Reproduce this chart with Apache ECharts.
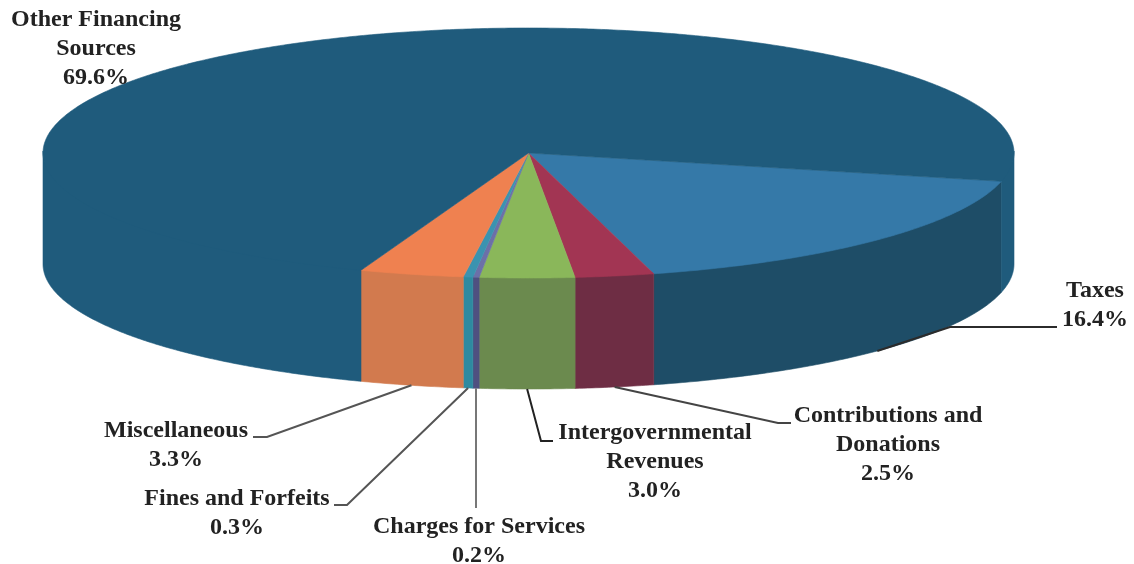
<!DOCTYPE html>
<html>
<head>
<meta charset="utf-8">
<title>Revenue sources</title>
<style>html,body{margin:0;padding:0;background:#fff}#chart{width:1134px;height:564px}</style>
<script src="https://cdn.jsdelivr.net/npm/echarts@6/dist/echarts.min.js"></script>
</head>
<body>
<div id="chart"></div>
<script>
// Revenue shares, clockwise from the right-hand side of the disc
const categories = [
  'Taxes',
  'Contributions and\nDonations',
  'Intergovernmental\nRevenues',
  'Charges for Services',
  'Fines and Forfeits',
  'Miscellaneous',
  'Other Financing\nSources'
];
const shares = [16.4, 2.5, 3.0, 0.2, 0.3, 3.3, 69.6];

// Slice colours: lit top face and shaded outer wall
const topColors  = ['#3579a8', '#a23553', '#8ab75a', '#6c70a8', '#3b93b0', '#ef8150', '#1f5b7c'];
const wallColors = ['#1e4d67', '#6e2d44', '#6b8a4e', '#4f5080', '#2d8aa0', '#d27a4e', '#1f5b7c'];

// Disc geometry in pixels
const disc = { cx: 528.5, cy: 153, rx: 485.5, ry: 125, depth: 111, startDeg: 13.1 };

// Label block centres and the leader-line bends leading to each label
const labelCentres = [[1095, 305], [888, 445], [655, 462], [479, 541], [237, 513], [176, 445], [96, 49]];
const leaderBends = [
  [[950, 327], [1057, 327]],
  [[778, 423], [791, 423]],
  [[541, 441], [553, 441]],
  [[476, 508]],
  [[347, 505], [334, 505]],
  [[267, 437], [253, 437]],
  []
];
const leaderColors = ['#2b2b2b', '#444', '#222', '#777', '#555', '#555', '#333'];

const total = shares.reduce((a, b) => a + b, 0);
const rad = d => d * Math.PI / 180;
const rimPoint = (deg, drop) => [
  disc.cx + disc.rx * Math.cos(rad(deg)),
  disc.cy + disc.ry * Math.sin(rad(deg)) + drop
];
const arc = (from, to, drop) => {
  const steps = Math.max(2, Math.ceil(Math.abs(to - from) * 2));
  const pts = [];
  for (let i = 0; i <= steps; i++) pts.push(rimPoint(from + (to - from) * i / steps, drop));
  return pts;
};

// Angular extent of slice i, derived from the running total of the shares
function sliceSpan(i) {
  let before = 0;
  for (let k = 0; k < i; k++) before += shares[k];
  const start = disc.startDeg + before / total * 360;
  return [start, start + shares[i] / total * 360];
}

// The wall is visible only where the rim faces the viewer (0-180 and 360-540 degrees)
function wallRanges(a0, a1) {
  const out = [];
  [[0, 180], [360, 540]].forEach(([lo, hi]) => {
    const s = Math.max(a0, lo), e = Math.min(a1, hi);
    if (e > s) out.push([s, e]);
  });
  return out;
}

function renderSlice(params, api) {
  const i = params.dataIndex;
  const [a0, a1] = sliceSpan(i);
  const children = [];

  // Walls start slightly above the rim so the top face hides the seam
  wallRanges(a0, a1).forEach(([s, e]) => {
    const pts = arc(s, e, -2).concat(arc(e, s, disc.depth));
    children.push({
      type: 'polygon', z2: 1, shape: { points: pts },
      style: { fill: wallColors[i], stroke: wallColors[i], lineWidth: 0.6 }
    });
  });

  const topPts = [[disc.cx, disc.cy]].concat(arc(a0, a1, 0));
  children.push({
    type: 'polygon', z2: 2, shape: { points: topPts },
    style: { fill: topColors[i], stroke: topColors[i], lineWidth: 0.6 }
  });

  if (leaderBends[i].length) {
    const mid = (a0 + a1) / 2;
    children.push({
      type: 'polyline', z2: 3,
      shape: { points: [rimPoint(mid, disc.depth)].concat(leaderBends[i]) },
      style: { stroke: leaderColors[i], lineWidth: 2, fill: 'none' }
    });
  }

  children.push({
    type: 'text', z2: 4,
    x: labelCentres[i][0], y: labelCentres[i][1],
    style: {
      text: categories[i] + '\n' + api.value(0).toFixed(1) + '%',
      fill: '#222',
      font: 'bold 24px "Liberation Serif", serif',
      align: 'center', verticalAlign: 'middle', lineHeight: 29
    }
  });
  return { type: 'group', children };
}

const chart = echarts.init(document.getElementById('chart'));
chart.setOption({
  animation: false,
  backgroundColor: '#ffffff',
  series: [{
    type: 'custom',
    coordinateSystem: 'none',
    silent: true,
    data: shares.map((v, i) => ({ name: categories[i], value: [v] })),
    renderItem: renderSlice
  }]
});
</script>
</body>
</html>
